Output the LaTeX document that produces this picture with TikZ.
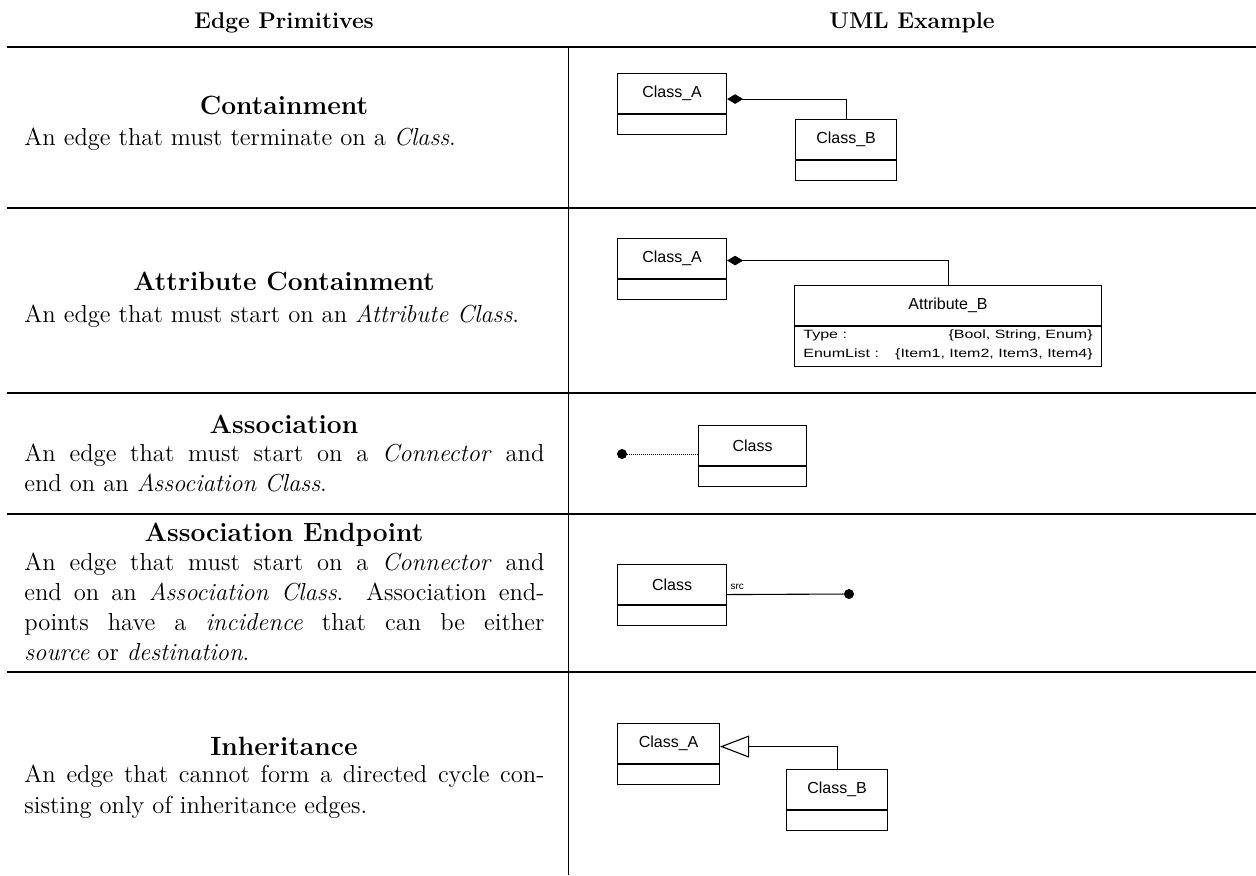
\documentclass[tikz,border=0pt]{standalone}
\usepackage{fontspec}
\newfontfamily\umlfont{Liberation Sans}
\usetikzlibrary{arrows.meta,calc}

\begin{document}
\begin{tikzpicture}[x=0.5pt,y=-0.5pt,
  hrulestyle/.style={line width=0.8pt},
  vrulestyle/.style={line width=0.5pt},
  colhead/.style={font=\fontsize{11.4}{14}\selectfont\bfseries, anchor=base, inner sep=0pt},
  rowtitle/.style={font=\fontsize{13.2}{16}\selectfont\bfseries, anchor=base, inner sep=0pt},
  bodyline/.style={font=\fontsize{12.3}{15}\selectfont, anchor=base west, inner sep=0pt},
  classhead/.style={draw, line width=0.55pt, inner sep=0pt, anchor=north west,
    font=\umlfont\fontsize{8}{9.6}\selectfont, minimum width=#1, minimum height=20pt},
  classfoot/.style={draw, line width=0.55pt, inner sep=0pt, anchor=north,
    minimum width=#1, minimum height=10pt},
  umltext/.style={font=\umlfont\fontsize{8}{9.6}\selectfont, inner sep=0pt},
  edge/.style={line width=0.55pt},
  portdot/.style={circle, fill=black, inner sep=0pt, minimum size=5pt},
  compose/.style={edge, -{Diamond[length=8pt,width=4.8pt]}},
  inherit/.style={edge, -{Triangle[open,length=14.5pt,width=11pt,line width=0.55pt]}},
  assocline/.style={line width=0.45pt, dash pattern=on 0.5pt off 0.5pt},
]
\useasboundingbox (0,0) rectangle (1256,875);

% ---------- table frame ----------
\draw[hrulestyle] (7,47) -- (1256,47);
\draw[hrulestyle] (7,208) -- (1256,208);
\draw[hrulestyle] (7,393) -- (1256,393);
\draw[hrulestyle] (7,514) -- (1256,514);
\draw[hrulestyle] (7,672) -- (1256,672);
\draw[vrulestyle] (568,47) -- (568,875);

% ---------- column headings ----------
\node[colhead] (hleft) at (284,28) {Edge Primitives};
\node[colhead] (hright) at (912,28) {UML Example};

% ---------- left column: descriptions ----------
\node[rowtitle] (t1) at (284,114) {Containment};
\node[bodyline] (d1a) at (24,145) {An edge that must terminate on a \textit{Class}.};

\node[rowtitle] (t2) at (284,290) {Attribute Containment};
\node[bodyline] (d2a) at (24,322) {An edge that must start on an \textit{Attribute Class}.};

\node[rowtitle] (t3) at (284,433) {Association};
\node[bodyline] (d3a) at (24,461) {\makebox[260pt][s]{An edge that must start on a \textit{Connector} and}};
\node[bodyline] (d3b) at (24,491) {end on an \textit{Association Class}.};

\node[rowtitle] (t4) at (284,541) {Association Endpoint};
\node[bodyline] (d4a) at (24,570) {\makebox[260pt][s]{An edge that must start on a \textit{Connector} and}};
\node[bodyline] (d4b) at (24,600) {\makebox[260pt][s]{end on an \textit{Association Class}. Association end-}};
\node[bodyline] (d4c) at (24,630) {\makebox[260pt][s]{points have a \textit{incidence} that can be either}};
\node[bodyline] (d4d) at (24,660) {\textit{source} or \textit{destination}.};

\node[rowtitle] (t5) at (284,755) {Inheritance};
\node[bodyline] (d5a) at (24,782) {\makebox[260pt][s]{An edge that cannot form a directed cycle con-}};
\node[bodyline] (d5b) at (24,813) {sisting only of inheritance edges.};

% ---------- containment ----------
\node[classhead=54.5pt] (ca) at (617,73) {Class\_A};
\node[classfoot=54.5pt] (ca2) at (ca.south) {};
\node[classhead=50.5pt] (cb) at (795,119) {Class\_B};
\node[classfoot=50.5pt] (cb2) at (cb.south) {};
\coordinate (ca-port) at ($(ca.east)+(0,5.5)$);
\draw[compose] (cb.north) |- (ca-port);

% ---------- attribute containment ----------
\node[classhead=54.5pt] (aa) at (617,238) {Class\_A};
\node[classfoot=54.5pt] (aa2) at (aa.south) {};
\node[classhead=153.5pt] (ab) at (794,285) {Attribute\_B};
\node[classfoot=153.5pt, minimum height=20pt] (ab2) at (ab.south) {};
\node[umltext, anchor=base west] (abtype) at (803,338) {\scalebox{1}[0.75]{Type :}};
\node[umltext, anchor=base east] (abtypev) at (1093,338) {\scalebox{1}[0.75]{\{Bool, String, Enum\}}};
\node[umltext, anchor=base west] (abenum) at (803,357) {\scalebox{1}[0.75]{EnumList :}};
\node[umltext, anchor=base east] (abenumv) at (1093,357) {\scalebox{1}[0.75]{\{Item1, Item2, Item3, Item4\}}};
\coordinate (aa-port) at ($(aa.east)+(0,2)$);
\draw[compose] (ab.north) |- (aa-port);

% ---------- association ----------
\node[classhead=54pt] (sc) at (698,425) {Class};
\node[classfoot=54pt] (sc2) at (sc.south) {};
\node[portdot] (sdot) at (622,454) {};
\draw[assocline] (sdot) -- (sdot -| sc.west);

% ---------- association endpoint ----------
\node[classhead=54.5pt] (ec) at (617,564) {Class};
\node[classfoot=54.5pt] (ec2) at (ec.south) {};
\coordinate (ec-port) at ($(ec.east)+(0,10)$);
\node[portdot] (edot) at (849,594) {};
\draw[edge] (ec-port) -- (edot);
\node[umltext, font=\umlfont\fontsize{5}{6}\selectfont, anchor=base west] (esrc) at ($(ec-port)+(3,-5)$) {src};

% ---------- inheritance ----------
\node[classhead=51pt] (ia) at (617,723) {Class\_A};
\node[classfoot=51pt] (ia2) at (ia.south) {};
\node[classhead=50.5pt] (ib) at (786,769) {Class\_B};
\node[classfoot=50.5pt] (ib2) at (ib.south) {};
\coordinate (ia-port) at ($(ia.east)+(0,3)$);
\draw[inherit] (ib.north) |- (ia-port);
\end{tikzpicture}
\end{document}
